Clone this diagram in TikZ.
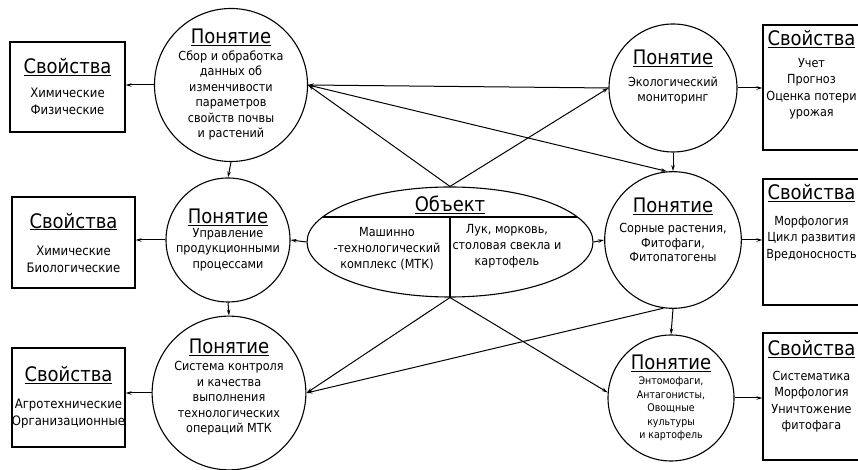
\documentclass[tikz,border=0pt]{standalone}
\usepackage{fontspec}
\setmainfont{DejaVu Sans Condensed}
\usetikzlibrary{arrows.meta, shapes.geometric, positioning, calc}
\newcommand{\headtext}[1]{{\fontsize{20}{22}\selectfont\underline{#1}}}

\begin{document}
\begin{tikzpicture}[x=1pt, y=1pt,
  concept/.style={draw, circle, line width=1.1pt, inner sep=0pt, align=center, font=\fontsize{12.5}{15.5}\selectfont},
  prop/.style={draw, rectangle, line width=1.1pt, inner sep=0pt, align=center, font=\fontsize{13}{17}\selectfont},
  proptext/.style={inner sep=0pt, align=center, font=\fontsize{12.5}{16.5}\selectfont},
  link/.style={line width=1pt, -{Stealth[length=6pt, width=3.5pt]}}]
  \useasboundingbox (0,0) rectangle (858,470);
  \clip (0,0) rectangle (858,470);

  \node[concept, minimum size=148] (c1) at (231,385) {\headtext{Понятие}\\[1pt]Сбор и обработка\\данных об\\изменчивости\\параметров\\свойств почвы\\и растений};
  \node[concept, minimum size=124] (c2) at (228,230) {\headtext{Понятие}\\[-2pt]Управление\\продукционными\\процессами};
  \node[concept, minimum size=150] (c3) at (229,77) {\headtext{Понятие}\\[2pt]Система контроля\\и качества\\выполнения\\технологических\\операций МТК\\[-6pt]\strut};
  \node[concept, minimum size=128] (c4) at (673,382) {\headtext{Понятие}\\[6pt]Экологический\\мониторинг\\[4pt]\strut};
  \node[concept, minimum size=130, font=\fontsize{12.5}{14.5}\selectfont] (c5) at (673,230) {\headtext{Понятие}\\[6pt]Сорные растения,\\Фитофаги,\\Фитопатогены\\[2pt]\strut};
  \node[concept, minimum size=126, font=\fontsize{10.5}{13.5}\selectfont] (c6) at (671,72) {\headtext{Понятие}\\[2pt]Энтомофаги,\\Антагонисты,\\Овощные\\культуры\\и картофель};

  \node[draw, ellipse, line width=1.1pt, minimum width=286, minimum height=110, inner sep=0pt] (obj) at (450,228) {};
  \node[font=\fontsize{20}{22}\selectfont, inner sep=0pt] (objhead) at ($(obj.center)+(0,37)$) {\underline{Объект}};
  \node[proptext, font=\fontsize{12.5}{16}\selectfont] (objleft) at ($(obj.center)+(-63,-7)$) {Машинно\\-технологический\\комплекс (МТК)};
  \node[proptext, font=\fontsize{12.5}{16}\selectfont] (objright) at ($(obj.center)+(57,-4)$) {Лук, морковь,\\столовая свекла и\\картофель};
  \draw[line width=1.1pt] ($(obj.center)+(-127.4,25)$) -- ($(obj.center)+(127.4,25)$);
  \draw[line width=1.1pt] ($(obj.center)+(0,25)$) -- (obj.south);

  \node[prop, minimum width=115, minimum height=90] (b1) at (67.5,383) {\headtext{Свойства}\\[7pt]Химические\\Физические};
  \node[prop, minimum width=123, minimum height=91] (b2) at (73.5,227.5) {\headtext{Свойства}\\[10pt]Химические\\Биологические};
  \node[prop, minimum width=113, minimum height=99] (b3) at (68.5,72.5) {\headtext{Свойства}\\[10pt]Агротехнические\\Организационные};

  \node[prop, minimum width=105, minimum height=125] (b4) at (815.5,382.5) {};
  \node[proptext, below=6pt of b4.north, xshift=-4pt] (t4) {\headtext{Свойства}\\[5pt]Учет\\Прогноз\\Оценка потери\\урожая};
  \node[prop, minimum width=105, minimum height=126] (b5) at (815.5,228) {};
  \node[proptext, below=6pt of b5.north, xshift=-4pt] (t5) {\headtext{Свойства}\\[9pt]Морфология\\Цикл развития\\Вредоносность};
  \node[prop, minimum width=105, minimum height=127] (b6) at (815.5,73.5) {};
  \node[proptext, below=8pt of b6.north, xshift=-4pt] (t6) {\headtext{Свойства}\\[8pt]Систематика\\Морфология\\Уничтожение\\фитофага};

  \draw[link] (c1.west) -- (c1.west -| b1.east);
  \draw[link] (c2.west) -- (c2.west -| b2.east);
  \draw[link] (c3.west) -- (c3.west -| b3.east);
  \draw[link] (c4.east) -- (c4.east -| b4.west);
  \draw[link] (c5.east) -- (c5.east -| b5.west);
  \draw[link] (c6.east) -- (c6.east -| b6.west);
  \draw[link] (obj.west) -- (c2.east);
  \draw[link] (obj.east) -- (c5.west);
  \draw[link] (c1.south) -- (c2.north);
  \draw[link] (c2.south) -- (c3.north);
  \draw[link] (c4.south) -- (c5.north);
  \draw[link] (c5.south) -- (c6.north);
  \draw[link, {Stealth[length=6pt, width=3.5pt]}-] (c1.east) -- (c4.west);
  \draw[link] (obj.north) -- (c1.east);
  \draw[link] (obj.north) -- (c4.west);
  \draw[link] (c1.east) -- (c5.95);
  \draw[link] (obj.south) -- (c3.east);
  \draw[link] (obj.south) -- (c6.175);
  \draw[link] (c5.262) -- (c3.east);
\end{tikzpicture}
\end{document}
